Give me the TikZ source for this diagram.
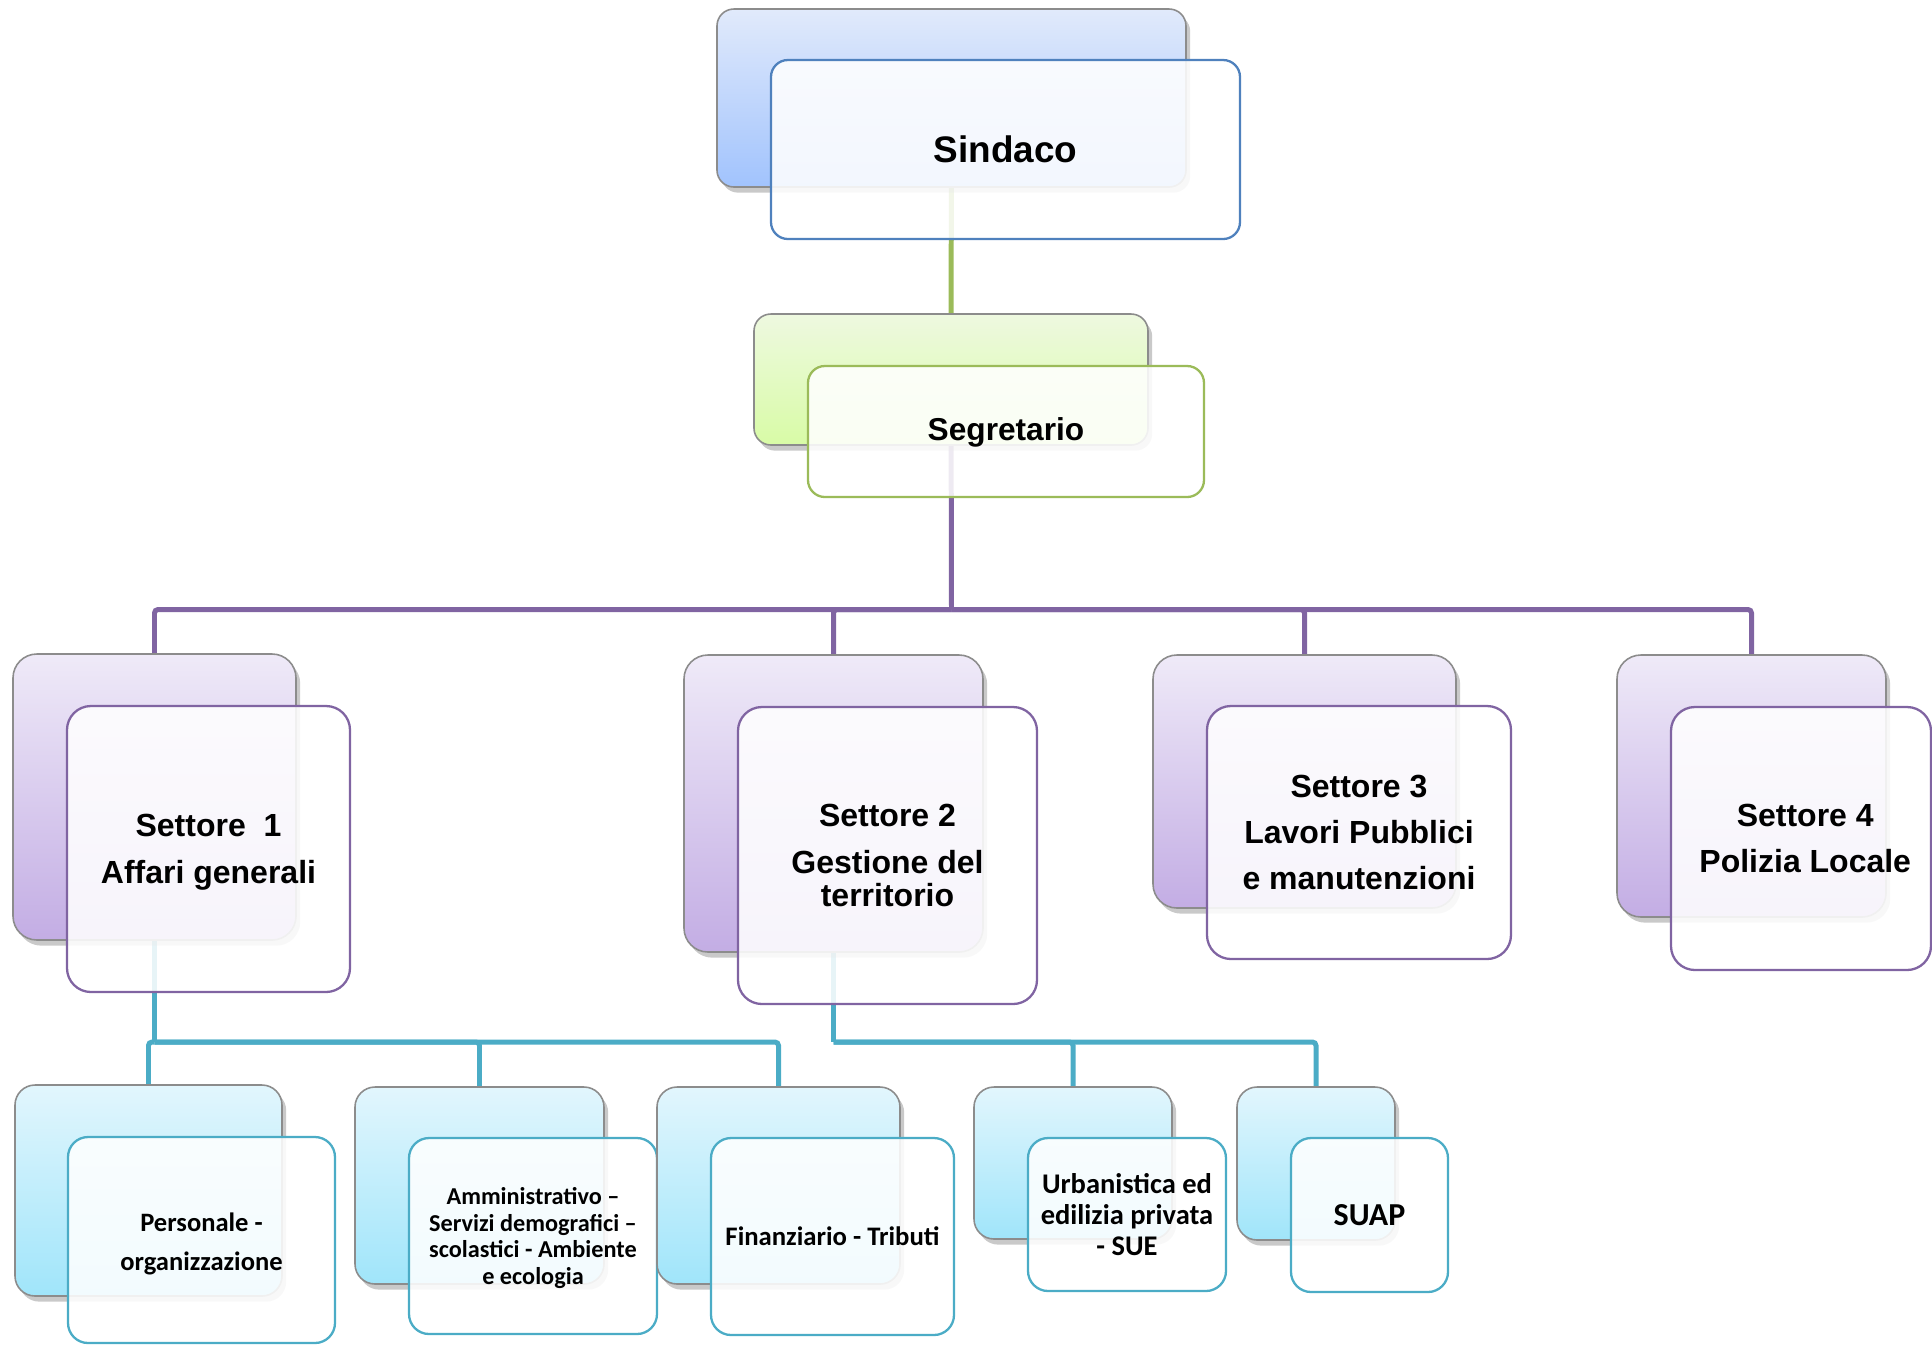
\documentclass[tikz,border=0pt]{standalone}
\usepackage{fontspec}
\setmainfont{Liberation Sans}
\newfontfamily\calib{Carlito}
\usetikzlibrary{fit,shadows,backgrounds}
\definecolor{bluebd}{HTML}{4F81BD}
\definecolor{greenbd}{HTML}{9BBB59}
\definecolor{purplebd}{HTML}{8064A2}
\definecolor{tealbd}{HTML}{4BACC6}
\definecolor{bluetop}{HTML}{E1EAFB}
\definecolor{bluebot}{HTML}{A1C3FD}
\definecolor{greentop}{HTML}{EEF9E0}
\definecolor{greenbot}{HTML}{D8FBA6}
\definecolor{purpletop}{HTML}{EFEAF8}
\definecolor{purplebot}{HTML}{C3ADE4}
\definecolor{tealtop}{HTML}{E2F6FD}
\definecolor{tealbot}{HTML}{A0E5FA}
\tikzset{
  backbox/.style={draw=black!45, line width=0.45pt, inner sep=0pt,
    drop shadow={shadow xshift=1.2pt, shadow yshift=-1.6pt, opacity=0.3, fill=black!70}},
  frontbox/.style={fill=white, fill opacity=0.87, line width=0.65pt, inner sep=0pt},
  bigr/.style={rounded corners=4.8pt},
  midr/.style={rounded corners=6.8pt},
  smallr/.style={rounded corners=5.7pt},
  blueback/.style={backbox, bigr, top color=bluetop, bottom color=bluebot},
  greenback/.style={backbox, bigr, top color=greentop, bottom color=greenbot},
  purpleback/.style={backbox, midr, top color=purpletop, bottom color=purplebot},
  tealback/.style={backbox, smallr, top color=tealtop, bottom color=tealbot},
  bluefront/.style={frontbox, bigr, draw=bluebd},
  greenfront/.style={frontbox, bigr, draw=greenbd},
  purplefront/.style={frontbox, midr, draw=purplebd},
  tealfront/.style={frontbox, smallr, draw=tealbd},
  lbl/.style={inner sep=0pt, align=center, text=black, anchor=center},
  ptext/.style={lbl, font=\bfseries\fontsize{9.1pt}{13.3pt}\selectfont},
  conn/.style={line width=1.42pt, rounded corners=1pt},
  gline/.style={conn, draw=greenbd},
  pline/.style={conn, draw=purplebd},
  tline/.style={conn, draw=tealbd},
}
\begin{document}
\begin{tikzpicture}[x=0.01cm, y=-0.01cm]
\useasboundingbox (0,0) rectangle (1932,1344);

% Sindaco
\node[blueback, fit={(717,9) (1186,187)}] (sindB) {};
\node[bluefront, fit={(771,60) (1240,239)}] (sindF) {};
\node[lbl, font=\bfseries\fontsize{10.5pt}{12pt}\selectfont] (sindT) at (sindF.center) {Sindaco};

% Segretario
\node[greenback, fit={(754,314) (1148,445)}] (segB) {};
\node[greenfront, fit={(808,366) (1204,497)}] (segF) {};
\node[lbl, font=\bfseries\fontsize{9.0pt}{11pt}\selectfont, yshift=-0.3pt] (segT) at (segF.center) {Segretario};

% Settori
\node[purpleback, fit={(13,654) (296,940)}] (s1B) {};
\node[purplefront, fit={(67,706) (350,992)}] (s1F) {};
\node[ptext, yshift=-0.9pt] (s1T) at (s1F.center) {Settore~~1\\Affari generali};

\node[purpleback, fit={(684,655) (983,952)}] (s2B) {};
\node[purplefront, fit={(738,707) (1037,1004)}] (s2F) {};
\node[lbl, font=\bfseries\fontsize{9.1pt}{9.4pt}\selectfont] (s2T) at (s2F.center) {Settore 2\\[4pt]Gestione del\\territorio};

\node[purpleback, fit={(1153,655) (1456,908)}] (s3B) {};
\node[purplefront, fit={(1207,706) (1511,959)}] (s3F) {};
\node[lbl, font=\bfseries\fontsize{9.1pt}{13.1pt}\selectfont] (s3T) at (s3F.center) {Settore 3\\Lavori Pubblici\\e manutenzioni};

\node[purpleback, fit={(1617,655) (1886,917)}] (s4B) {};
\node[purplefront, fit={(1671,707) (1931,970)}] (s4F) {};
\node[ptext, xshift=1.2pt] (s4T) at (s4F.center) {Settore 4\\Polizia Locale};

% Uffici
\node[tealback, fit={(15,1085) (282,1296)}] (persB) {};
\node[tealfront, fit={(68,1137) (335,1343)}] (persF) {};
\node[lbl, font=\calib\bfseries\fontsize{7.55pt}{11.2pt}\selectfont, yshift=-1.1pt] (persT) at (persF.center) {Personale -\\organizzazione};

\node[tealback, fit={(355,1087) (604,1284)}] (ammB) {};
\node[tealfront, fit={(409,1138) (657,1334)}] (ammF) {};
\node[lbl, font=\calib\bfseries\fontsize{6.9pt}{7.6pt}\selectfont, yshift=-0.6pt] (ammT) at (ammF.center) {Amministrativo –\\Servizi demografici –\\scolastici - Ambiente\\e ecologia};

\node[tealback, fit={(657,1087) (900,1284)}] (finB) {};
\node[tealfront, fit={(711,1138) (954,1335)}] (finF) {};
\node[lbl, font=\calib\bfseries\fontsize{7.6pt}{9pt}\selectfont] (finT) at (finF.center) {Finanziario - Tributi};

\node[tealback, fit={(974,1087) (1172,1239)}] (urbB) {};
\node[tealfront, fit={(1028,1138) (1226,1291)}] (urbF) {};
\node[lbl, font=\calib\bfseries\fontsize{8.1pt}{8.9pt}\selectfont] (urbT) at (urbF.center) {Urbanistica ed\\edilizia privata\\- SUE};

\node[tealback, fit={(1237,1087) (1395,1240)}] (suapB) {};
\node[tealfront, fit={(1291,1138) (1448,1292)}] (suapF) {};
\node[lbl, font=\calib\bfseries\fontsize{9.1pt}{10pt}\selectfont] (suapT) at (suapF.center) {SUAP};

% connectors
\coordinate (pbus) at (951.5,609.5);
\coordinate (tbusA) at (154.5,1042);
\coordinate (tbusB) at (833.5,1042);
\begin{pgfonlayer}{background}
\draw[gline] (sindB.center) -- (segB.center);
\draw[pline] (segB.center) -- (pbus);
\draw[pline] (pbus) -| (s1B.center);
\draw[pline] (pbus) -| (s2B.center);
\draw[pline] (pbus) -| (s3B.center);
\draw[pline] (pbus) -| (s4B.center);
\draw[tline] (s1B.center) -- (tbusA);
\draw[tline] (tbusA) -| (persB.center);
\draw[tline] (tbusA) -| (ammB.center);
\draw[tline] (tbusA) -| (finB.center);
\draw[tline] (s2B.center) -- (tbusB);
\draw[tline] (tbusB) -| (urbB.center);
\draw[tline] (tbusB) -| (suapB.center);
\end{pgfonlayer}
\end{tikzpicture}
\end{document}
